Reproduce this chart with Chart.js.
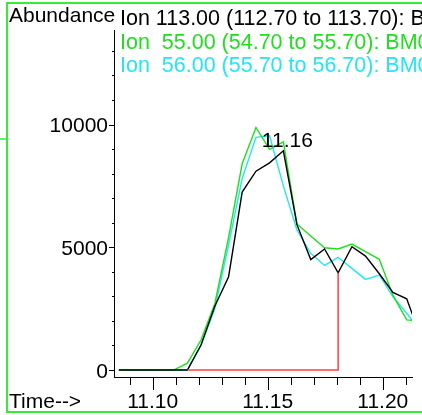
<!DOCTYPE html>
<html>
<head>
<meta charset="utf-8">
<script src="https://cdn.jsdelivr.net/npm/chart.js@4/dist/chart.umd.min.js"></script>
<style>
  html, body { margin:0; padding:0; background:#fff; }
  #wrap { position:relative; width:422px; height:415px; }
</style>
</head>
<body>
<div id="wrap"><canvas id="chart" width="422" height="415"></canvas></div>
<script>
// retention time (min) of each scan
const times = [11.0853, 11.0913, 11.0972, 11.1032, 11.1091, 11.1151, 11.1210, 11.1270, 11.1330, 11.1389, 11.1449, 11.1508,
               11.1568, 11.1627, 11.1687, 11.1747, 11.1806, 11.1866, 11.1925, 11.1985, 11.2044, 11.2104, 11.2163];
const ion113 = [0, 0, 0, 0, 0, 0, 1020, 2600, 3800, 7250, 8100, 8440, 8930, 5920, 4500, 4930, 3960, 5020, 4640, 3920, 3160, 2900, 1400];
const ion55  = [0, 0, 0, 0, 0, 280, 1220, 2700, 5400, 8400, 9880, 8990, 9290, 5950, 5460, 4980, 4930, 5130, 4820, 4510, 3050, 2040, 2000];
const ion56  = [0, 0, 0, 0, 0, 0, 1000, 2500, 5100, 7800, 9480, 9540, 7500, 5700, 4750, 4260, 4590, 4140, 3690, 3870, 2990, 2310, 1630];

// integration baseline for the 113 peak
const baseX = [11.1151, 11.1806, 11.1806];
const baseY = [0, 0, 3960];

const peakTime = 11.1568;
const peakLabel = '11.16';

const xMinorTicks = [11.09, 11.10, 11.11, 11.12, 11.13, 11.14, 11.15, 11.16, 11.17, 11.18, 11.19, 11.20, 11.21];
const xLabelTicks = [11.10, 11.15, 11.20];
const yMinorTicks = [0, 1000, 2000, 3000, 4000, 5000, 6000, 7000, 8000, 9000, 10000, 11000, 12000, 13000];
const yLabelTicks = [0, 5000, 10000];

const legendLines = [
  { text: 'Ion 113.00 (112.70 to 113.70): BM0', color: '#000000' },
  { text: 'Ion  55.00 (54.70 to 55.70): BM0', color: '#1ee01e' },
  { text: 'Ion  56.00 (55.70 to 56.70): BM0', color: '#22e6f6' },
];

const FONT = '21px "Liberation Sans", Arial, sans-serif';
const LEGEND_FONT = '21.5px "Liberation Sans", Arial, sans-serif';

function pts(xs, ys){ return xs.map((x, i) => ({ x, y: ys[i] })); }

const decor = {
  id: 'decor',
  afterDraw(chart){
    const ctx = chart.ctx;
    const xs = chart.scales.x, ys = chart.scales.y;
    const area = chart.chartArea;
    ctx.save();

    // frame
    ctx.strokeStyle = '#33ee33';
    ctx.lineWidth = 2;
    ctx.beginPath();
    ctx.moveTo(7, 413); ctx.lineTo(7, 3); ctx.lineTo(422, 3);
    ctx.moveTo(7, 412); ctx.lineTo(422, 412);
    ctx.stroke();
    ctx.lineWidth = 1.5;
    ctx.beginPath(); ctx.moveTo(0, 139); ctx.lineTo(7, 139); ctx.stroke();

    // axis ticks
    ctx.strokeStyle = '#000';
    ctx.lineWidth = 1;
    ctx.beginPath();
    xMinorTicks.forEach(v => {
      const px = Math.round(xs.getPixelForValue(v)) + 0.5;
      const len = xLabelTicks.some(t => Math.abs(t - v) < 1e-6) ? 13 : 8;
      ctx.moveTo(px, area.bottom); ctx.lineTo(px, area.bottom + len);
    });
    yMinorTicks.forEach(v => {
      const py = Math.round(ys.getPixelForValue(v)) + 0.5;
      const len = yLabelTicks.includes(v) ? 5 : 2;
      ctx.moveTo(area.left, py); ctx.lineTo(area.left - len, py);
    });
    ctx.stroke();

    ctx.font = FONT;
    ctx.fillStyle = '#000';
    ctx.textBaseline = 'alphabetic';
    ctx.textAlign = 'center';
    xLabelTicks.forEach(v => ctx.fillText(v.toFixed(2), xs.getPixelForValue(v), 408));
    ctx.textAlign = 'right';
    yLabelTicks.forEach(v => ctx.fillText(String(v), 108, ys.getPixelForValue(v) + 7.5));

    ctx.textAlign = 'left';
    ctx.fillText('Abundance', 9, 22);
    ctx.fillText('Time-->', 9, 408);

    // legend lines, clipped at the canvas edge
    ctx.font = LEGEND_FONT;
    const base = [25, 49, 72];
    legendLines.forEach((l, i) => {
      ctx.fillStyle = l.color;
      ctx.fillText(l.text, 120, base[i]);
    });

    // peak label
    ctx.font = FONT;
    const i = times.indexOf(peakTime);
    ctx.fillStyle = '#000';
    ctx.textAlign = 'center';
    ctx.fillText(peakLabel, xs.getPixelForValue(peakTime) + 4, ys.getPixelForValue(ion113[i]) - 4);
    ctx.restore();
  }
};

new Chart(document.getElementById('chart'), {
  type: 'line',
  data: {
    datasets: [
      { data: pts(baseX, baseY), borderColor: '#ff4040', borderWidth: 1.5 },
      { data: pts(times, ion113), borderColor: '#000000', borderWidth: 1.4 },
      { data: pts(times, ion55), borderColor: '#1ee01e', borderWidth: 1.4 },
      { data: pts(times, ion56), borderColor: '#22e6f6', borderWidth: 1.4 },
    ]
  },
  options: {
    responsive: false,
    animation: false,
    events: [],
    layout: { padding: { left: 114, top: 30, right: 10, bottom: 38 } },
    elements: { point: { radius: 0 }, line: { tension: 0 } },
    scales: {
      x: {
        type: 'linear', min: 11.0832, max: 11.2127,
        ticks: { display: false },
        grid: { display: false, drawTicks: false },
        border: { display: true, color: '#000', width: 1 }
      },
      y: {
        type: 'linear', min: -285, max: 13850,
        ticks: { display: false },
        grid: { display: false, drawTicks: false },
        border: { display: true, color: '#000', width: 1 }
      }
    },
    plugins: { legend: { display: false }, tooltip: { enabled: false } }
  },
  plugins: [decor]
});
</script>
</body>
</html>
